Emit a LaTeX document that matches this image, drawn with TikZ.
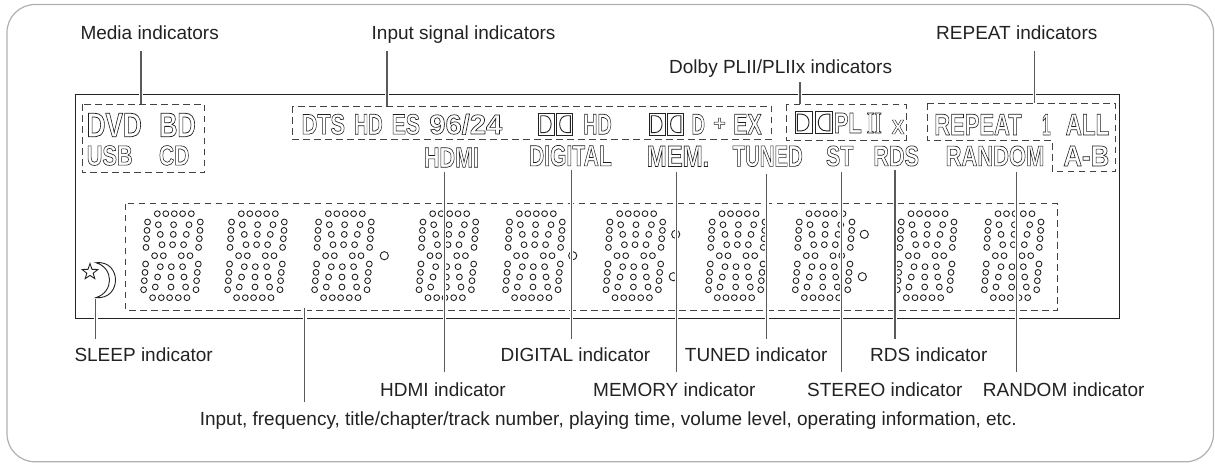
\documentclass[tikz,border=0pt]{standalone}
\usepackage{fontspec}
\usepackage{graphicx}
\setmainfont{Liberation Sans}
\newfontfamily\oserif{Liberation Serif}
\usetikzlibrary{calc}
\definecolor{frameC}{HTML}{B0B0B0}
\definecolor{inkC}{HTML}{222222}
\definecolor{leadC}{HTML}{5A5A5A}
\tikzset{
  x=1pt,y=-1pt,
  lab/.style={anchor=base west,inner sep=0pt,text=inkC,font=\fontsize{19}{19}\selectfont},
  dashbox/.style={draw=inkC!85,line width=1pt,dash pattern=on 6.5pt off 4.5pt},
  leaderline/.style={draw=leadC,line width=1.2pt},
  halo/.style={draw=white,line width=3.6pt},
  dotc/.style={draw=inkC,line width=0.9pt,fill=white},
  lcd/.style={draw=inkC,line width=0.9pt},
}
\newcommand{\outl}[1]{\special{pdf:code q 1 Tr 0.65 w 0.12 G}#1\special{pdf:code Q}}
\newcommand{\otxt}[6]{%
  \pgfmathsetmacro\boxw{#3-#2}\pgfmathsetmacro\boxh{#5-#4}%
  \node[inner sep=0pt] (#1) at ({(#2+#3)/2},{(#4+#5)/2})
    {\resizebox{\boxw pt}{\boxh pt}{\fontsize{28}{28}\selectfont\bfseries\outl{#6}}};}
\newcommand{\leadline}[4]{%
  \coordinate (#1a) at (#2,#3); \coordinate (#1b) at (#2,#4);
  \draw[halo] (#1a) -- (#1b); \draw[leaderline] (#1a) -- (#1b);}
\newcommand{\digitblock}[1]{%
  \begin{scope}[shift={(#1,213.7)}]
  \foreach \px/\py in {0/0,8.5/0,17/0,25.3/0,34/0,
    -9.7/8.3,1/11,16.3/11,31.7/11,43/8.3,
    -10.3/16.7,3/20.7,16/20.7,29/20.7,42.7/16.7,
    -10.7/25,4.7/31,15.3/31,26.3/31,42/25,
    -11.3/33.7,41.3/33.7,
    -2.7/42,6/42,24/42,32.7/42,
    -11.7/50.3,41/50.3,3/53,14/53,25.3/53,
    -12.3/58.7,40/58.7,0.3/63.3,13.7/63.3,26.7/63.3,
    -13/67,39.3/67,-2/73.3,13.7/73.3,28.3/73.3,
    -13.7/76,38.7/76,
    -4.7/84,4/84,12.3/84,21/84,29.7/84}{\draw[dotc] (\px,\py) circle[radius=2.9];}
  \end{scope}}
% Dolby double-D block: x1 x2 y1 y2 direction
\newcommand{\dbox}[5]{%
  \pgfmathsetmacro\xa{#5>0?#1+2.4:#2-2.4}\pgfmathsetmacro\xb{#5>0?#2-0.6:#1+0.6}%
  \pgfmathsetmacro\xm{#5>0?#1+6:#2-6}%
  \draw[lcd] (#1,#3) rectangle (#2,#4);
  \draw[lcd] (\xa,#3+2.4) -- (\xm,#3+2.4) .. controls (\xb,#3+2.4) and (\xb,#4-2.4) .. (\xm,#4-2.4) -- (\xa,#4-2.4) -- cycle;}
\begin{document}
\begin{tikzpicture}
\useasboundingbox (0,0) rectangle (1215,463);
% outer frame and display
\draw[frameC,line width=1.2pt,rounded corners=28pt] (7,4.5) rectangle (1213.5,461.8);
\draw[inkC,line width=1pt] (75.5,94.5) rectangle (1119,318.3);
% dashed groups
\draw[dashbox] (82,104) rectangle (204.7,172.7);
\draw[dashbox] (292,106.3) rectangle (771.7,139);
\draw[dashbox] (786,104.3) rectangle (906,140);
\draw[dashbox] (927.3,103.3) -- (1115,103.3) -- (1115,171.7) -- (1052.3,171.7) -- (1052.3,140) -- (927.3,140) -- cycle;
\draw[dashbox] (125.7,203.7) rectangle (1057.3,310.3);
% display text
\otxt{dvd}{86.7}{141.7}{113.3}{136.7}{DVD}
\otxt{bd}{159.3}{195.7}{113.3}{136.7}{BD}
\otxt{usb}{86.7}{132.7}{145.7}{165.3}{USB}
\otxt{cd}{159}{189.3}{145.7}{165.3}{CD}
\otxt{dts}{301.7}{345}{114.3}{134.3}{DTS}
\otxt{hda}{354}{382.7}{114.3}{134.3}{HD}
\otxt{es}{391.7}{420}{114.3}{134.3}{ES}
\otxt{nsf}{429.3}{502.3}{114.3}{134.3}{96/24}
\dbox{538.3}{554}{113.3}{135}{1}
\dbox{556.7}{572.7}{113.3}{135}{-1}
\otxt{hdb}{583.3}{611.7}{114.3}{134.3}{HD}
\dbox{649}{665}{113.3}{135}{1}
\dbox{667.7}{683.3}{113.3}{135}{-1}
\otxt{dplus}{691.7}{705}{114.3}{134.3}{D}
\otxt{plus}{713.3}{725.7}{118}{130}{+}
\otxt{ex}{733.3}{761.7}{114.3}{134.3}{EX}
\dbox{795}{812.3}{111.7}{133.3}{1}
\dbox{815}{832.3}{111.7}{133.3}{-1}
\otxt{pl}{834}{861.7}{113}{133}{PL}
\otxt{iix}{866.7}{881.7}{113}{133}{\oserif II}
\otxt{smx}{891.7}{904.3}{120}{134}{X}
\otxt{rep}{934.3}{1021.7}{114.3}{135}{REPEAT}
\otxt{one}{1042}{1050.7}{114.3}{135}{1}
\otxt{all}{1065.7}{1109.3}{114.3}{135}{ALL}
\otxt{hdmi}{424}{479}{147.7}{167.3}{HDMI}
\otxt{digi}{529}{611.7}{145.5}{166}{DIGITAL}
\otxt{mem}{646.7}{709.3}{146}{166.5}{MEM.}
\otxt{tuned}{732.7}{802.7}{146}{166.5}{TUNED}
\otxt{st}{826}{853.3}{146}{166}{ST}
\otxt{rds}{873.3}{919}{146}{166}{RDS}
\otxt{rand}{945.7}{1044.3}{146}{166}{RANDOM}
\otxt{ab}{1063.3}{1109.3}{146}{166}{A-B}
% digits
\foreach \dx in {157.3,241.3,328.3,432.7,519.3,619.7,722,809,911,998}{\digitblock{\dx}}
% colon / separator dots
\foreach \cx/\cy in {384.3/255.7,572.7/255.7,675.7/234.3,673.3/276.7,864.3/234.3,862.3/276.7}
  {\draw[dotc] (\cx,\cy) circle[radius=4.1];}
% star and moon
\draw[lcd,line join=miter] (90,263.6) -- (92,269.3) -- (97.8,269.5) -- (93.2,273.2) -- (94.8,278.6) -- (90,275.4) -- (85.2,278.6) -- (86.8,273.2) -- (82.2,269.5) -- (88,269.3) -- cycle;
\draw[lcd] (96,262.7) .. controls (122,260) and (122,300) .. (96,297.6) .. controls (114,292) and (114,268) .. (96,262.7) -- cycle;
% leaders
\leadline{lmedia}{141}{51}{104}
\leadline{linput}{387}{51}{106.3}
\leadline{ldolby}{800}{82}{104.3}
\leadline{lrepeat}{1034.3}{51}{103.3}
\leadline{lhdmi}{444.6}{172.3}{372}
\leadline{ldigi}{571.6}{170}{338.7}
\leadline{lmem}{676.4}{172.3}{372}
\leadline{ltuned}{766.7}{174}{338.7}
\leadline{lst}{841.6}{172.3}{372}
\leadline{lrds}{895}{170}{338.7}
\leadline{lrand}{1016.8}{172.3}{372}
\leadline{lsleep}{95.7}{299}{338.7}
\leadline{lmain}{304.8}{307.5}{402}
% labels
\node[lab] (tmedia) at (80.3,39) {Media indicators};
\node[lab] (tinput) at (371.5,39) {Input signal indicators};
\node[lab] (trepeat) at (936,39) {REPEAT indicators};
\node[lab] (tdolby) at (669,73) {Dolby PLII/PLIIx indicators};
\node[lab] (tsleep) at (74.3,361.5) {SLEEP indicator};
\node[lab] (tdigi) at (500.4,361.5) {DIGITAL indicator};
\node[lab] (ttuned) at (684.7,361.5) {TUNED indicator};
\node[lab] (trds) at (870,361.5) {RDS indicator};
\node[lab] (thdmi) at (380,396) {HDMI indicator};
\node[lab] (tmem) at (593,396) {MEMORY indicator};
\node[lab] (tst) at (807,396) {STEREO indicator};
\node[lab] (trand) at (982.7,396) {RANDOM indicator};
\node[lab] (tmain) at (199.6,425) {Input, frequency, title/chapter/track number, playing time, volume level, operating information, etc.};
\end{tikzpicture}
\end{document}
